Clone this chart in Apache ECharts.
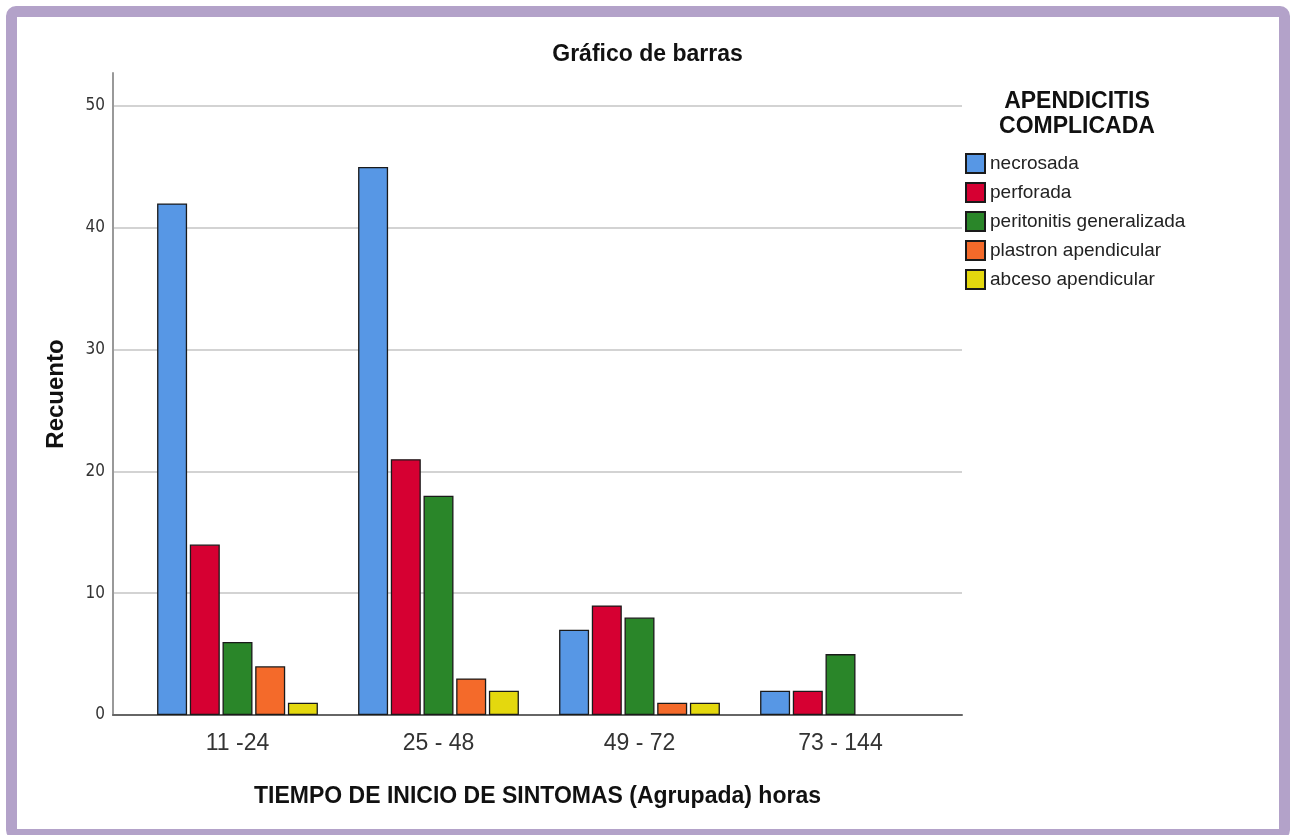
<!DOCTYPE html>
<html><head><meta charset="utf-8">
<script src="https://cdn.jsdelivr.net/npm/echarts@6/dist/echarts.min.js"></script>
<style>
html,body{margin:0;padding:0;background:#fff;overflow:hidden;width:1295px;height:835px}
#frame{position:absolute;left:6px;top:6px;width:1262px;height:812px;border:11px solid #b3a2c9;border-radius:10px;box-sizing:content-box;z-index:0}
#chart{position:absolute;left:0;top:0;width:1295px;height:835px;z-index:1}
</style></head>
<body>
<div id="frame"></div>
<div id="chart"></div>
<script>
const categories = ['11 -24', '25 - 48', '49 - 72', '73 - 144'];
const seriesNames = ['necrosada', 'perforada', 'peritonitis generalizada', 'plastron apendicular', 'abceso apendicular'];
const necrosada = [42, 45, 7, 2];
const perforada = [14, 21, 9, 2];
const peritonitis = [6, 18, 8, 5];
const plastron = [4, 3, 1, null];
const abceso = [1, 2, 1, null];
const yTicks = [0, 10, 20, 30, 40, 50];

const colors = ['#5797e5', '#d60032', '#2a8629', '#f46a2a', '#e4d80e'];
const values = [necrosada, perforada, peritonitis, plastron, abceso];

const chart = echarts.init(document.getElementById('chart'), null, {renderer: 'canvas'});
const sans = '"Liberation Sans", Arial, sans-serif';
const narrow = '"Liberation Sans Narrow", "DejaVu Sans Condensed", "Liberation Sans", sans-serif';

const option = {
  backgroundColor: 'transparent',
  animation: false,
  title: [{
    text: 'Gráfico de barras', left: 'center', top: 38,
    textStyle: {fontFamily: sans, fontSize: 23, fontWeight: 'bold', color: '#111'}
  }],
  graphic: [{
    type: 'text', x: 1077, y: 89,
    style: {text: 'APENDICITIS\nCOMPLICADA', textAlign: 'center', fontFamily: sans, fontSize: 23, fontWeight: 'bold', fill: '#111', lineHeight: 25}
  }],
  legend: {
    data: seriesNames, orient: 'vertical', left: 965, top: 153,
    itemWidth: 19, itemHeight: 19, itemGap: 8, icon: 'rect', padding: 0, itemTextGap: 5,
    textStyle: {fontFamily: sans, fontSize: 19, color: '#222'}
  },
  grid: [
    {left: 137, right: 354, top: 106, bottom: 120},
    {left: 113, right: 333, top: 106, bottom: 120},
    {left: 113, right: 333, top: 73, bottom: 120}
  ],
  xAxis: [
    {gridIndex: 0, type: 'category', data: categories,
     axisLine: {show: false}, axisTick: {show: false},
     axisLabel: {fontFamily: sans, fontSize: 23, color: '#333', margin: 17}},
    {gridIndex: 1, type: 'category', data: categories,
     axisLine: {show: true, lineStyle: {color: '#666', width: 2}}, axisTick: {show: false}, axisLabel: {show: false},
     name: 'TIEMPO DE INICIO DE SINTOMAS (Agrupada) horas', nameLocation: 'middle', nameGap: 70,
     nameTextStyle: {fontFamily: sans, fontSize: 23, fontWeight: 'bold', color: '#111'}},
    {gridIndex: 2, type: 'category', data: categories, show: false}
  ],
  yAxis: [
    {gridIndex: 0, type: 'value', min: 0, max: 50, interval: 10, show: false},
    {gridIndex: 1, type: 'value', min: 0, max: 50, interval: 10,
     axisLine: {show: false}, axisTick: {show: false},
     axisLabel: {fontFamily: narrow, fontSize: 17, color: '#333', margin: 8,
       formatter: v => yTicks.includes(v) ? String(v) : ''},
     splitLine: {show: true, lineStyle: {color: '#d3d3d3', width: 2}}},
    {gridIndex: 2, type: 'value', min: 0, max: 52.7,
     axisLine: {show: true, lineStyle: {color: '#999', width: 2}}, axisTick: {show: false},
     axisLabel: {show: false}, splitLine: {show: false},
     name: 'Recuento', nameLocation: 'middle', nameGap: 45,
     nameTextStyle: {fontFamily: sans, fontSize: 24, fontWeight: 'bold', color: '#111'}}
  ],
  series: seriesNames.map((name, i) => ({
    name: name, type: 'bar', xAxisIndex: 0, yAxisIndex: 0,
    data: values[i], barWidth: 30, barGap: '9%',
    itemStyle: {color: colors[i], borderColor: '#1a1a1a', borderWidth: 1.3},
    z: 3
  }))
};
chart.setOption(option);
</script>
</body></html>
